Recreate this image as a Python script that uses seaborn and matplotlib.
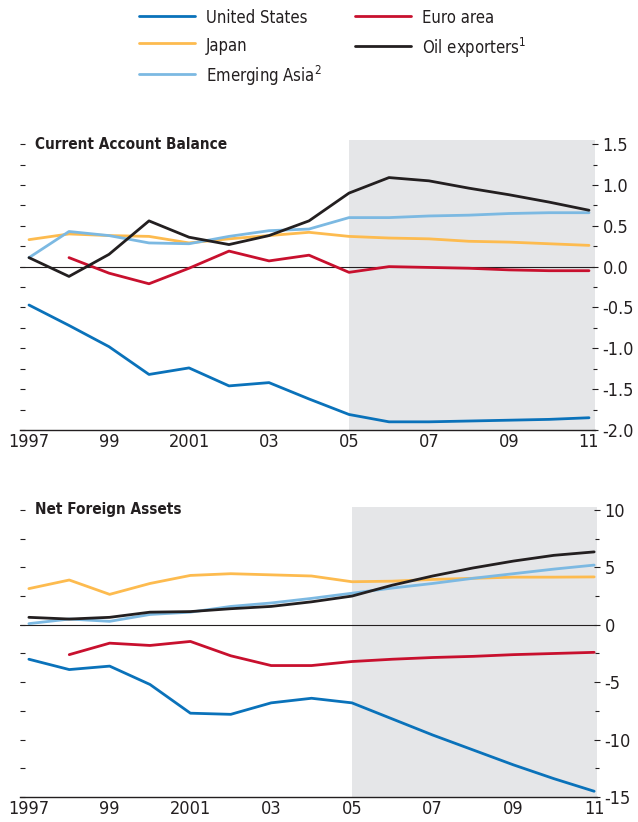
import numpy as np
import pandas as pd
import seaborn as sns
import matplotlib
matplotlib.use('Agg')
from matplotlib import pyplot as plt
from matplotlib.lines import Line2D
from matplotlib.ticker import MultipleLocator, FixedLocator, FormatStrFormatter
import matplotlib.transforms as mtransforms

# years on the x axis
years = list(range(1997, 2012))
year_labels = ['1997', '', '99', '', '2001', '', '03', '', '05', '', '07', '', '09', '', '11']

regions = ['United States', 'Japan', 'Emerging Asia', 'Euro area', 'Oil exporters']
legend_labels = ['United States', 'Japan', 'Emerging Asia$^{\\mathregular{2}}$',
                 'Euro area', 'Oil exporters$^{\\mathregular{1}}$']

# Current account balance
ca_us = [-0.47, -0.72, -0.98, -1.32, -1.24, -1.46, -1.42, -1.62, -1.81, -1.90, -1.90, -1.89, -1.88, -1.87, -1.85]
ca_japan = [0.33, 0.40, 0.38, 0.37, 0.29, 0.34, 0.38, 0.42, 0.37, 0.35, 0.34, 0.31, 0.30, 0.28, 0.26]
ca_asia = [0.11, 0.43, 0.38, 0.29, 0.28, 0.37, 0.44, 0.46, 0.60, 0.60, 0.62, 0.63, 0.65, 0.66, 0.66]
ca_euro = [np.nan, 0.11, -0.08, -0.21, -0.02, 0.19, 0.07, 0.14, -0.07, 0.0, -0.01, -0.02, -0.04, -0.05, -0.05]
ca_oil = [0.11, -0.12, 0.15, 0.56, 0.36, 0.27, 0.38, 0.56, 0.90, 1.09, 1.05, 0.96, 0.88, 0.79, 0.69]

# Net foreign assets
nfa_us = [-3.0, -3.9, -3.6, -5.2, -7.7, -7.8, -6.8, -6.4, -6.8, -8.2, -9.6, -10.9, -12.2, -13.4, -14.5]
nfa_japan = [3.15, 3.9, 2.65, 3.6, 4.3, 4.45, 4.35, 4.25, 3.75, 3.8, 3.95, 4.05, 4.15, 4.15, 4.17]
nfa_asia = [0.1, 0.5, 0.3, 0.9, 1.1, 1.6, 1.9, 2.3, 2.75, 3.2, 3.6, 4.05, 4.45, 4.85, 5.2]
nfa_euro = [np.nan, -2.6, -1.6, -1.8, -1.45, -2.7, -3.55, -3.55, -3.2, -3.0, -2.85, -2.75, -2.6, -2.5, -2.4]
nfa_oil = [0.65, 0.5, 0.65, 1.1, 1.15, 1.4, 1.6, 2.0, 2.5, 3.45, 4.25, 4.95, 5.55, 6.05, 6.35]

palette = {'United States': '#0a72ba', 'Japan': '#fdbb4f', 'Emerging Asia': '#7cb9e2',
           'Euro area': '#c8102e', 'Oil exporters': '#231f20'}
ink = '#231f20'
shade = '#e5e6e8'


def to_long(series):
    rows = []
    for region, vals in zip(regions, series):
        for yr, v in zip(years, vals):
            rows.append({'year': yr, 'value': v, 'region': region})
    return pd.DataFrame(rows).dropna()


ca_df = to_long([ca_us, ca_japan, ca_asia, ca_euro, ca_oil])
nfa_df = to_long([nfa_us, nfa_japan, nfa_asia, nfa_euro, nfa_oil])

sns.set_style('white')
# condensed face, closer to the narrow type of the original
plt.rcParams['font.family'] = ['DejaVu Sans']
plt.rcParams['font.stretch'] = 'condensed'
plt.rcParams['axes.unicode_minus'] = False


def draw_panel(ax, df, xlim, ylim, major, minor, title, title_y, fmt):
    ax.axvspan(2005, xlim[1], color=shade, lw=0, zorder=0)
    ax.axhline(0, color=ink, lw=0.8, zorder=1)
    sns.lineplot(data=df, x='year', y='value', hue='region', hue_order=regions,
                 palette=palette, linewidth=2, legend=False, ax=ax, zorder=2)
    ax.set_xlim(xlim)
    ax.set_ylim(ylim)
    ax.set_xlabel('')
    ax.set_ylabel('')
    for s in ['left', 'top', 'right']:
        ax.spines[s].set_visible(False)
    ax.spines['bottom'].set_color(ink)
    ax.spines['bottom'].set_linewidth(1)
    ax.xaxis.set_major_locator(FixedLocator(years))
    ax.set_xticklabels(year_labels)
    ax.tick_params(axis='x', direction='in', length=5, width=0.8, pad=2,
                   labelsize=13, color=ink, labelcolor=ink)
    ax.yaxis.set_major_locator(MultipleLocator(minor))
    ax.tick_params(axis='y', left=True, direction='in', length=3.6, width=0.8,
                   color=ink, labelleft=False)

    axr = ax.twinx()
    axr.set_ylim(ylim)
    for s in ['left', 'top', 'right', 'bottom']:
        axr.spines[s].set_visible(False)
    axr.yaxis.set_major_locator(MultipleLocator(major))
    axr.yaxis.set_minor_locator(MultipleLocator(minor))
    axr.yaxis.set_major_formatter(FormatStrFormatter(fmt))
    axr.tick_params(axis='y', which='major', direction='inout', length=5, width=0.8,
                    pad=3, labelsize=13, color=ink, labelcolor=ink)
    axr.tick_params(axis='y', which='minor', direction='inout', length=3, width=0.8, color=ink)

    trans = mtransforms.blended_transform_factory(ax.transAxes, ax.transData)
    ax.text(0.026, title_y, title, transform=trans, fontsize=11, fontweight='bold',
            color=ink, ha='left', va='center')


fig = plt.figure(figsize=(6.38, 8.22), dpi=100)
ax1 = fig.add_axes([20 / 638, 1 - 430 / 822, 575 / 638, 290 / 822])
ax2 = fig.add_axes([20 / 638, 1 - 797 / 822, 577 / 638, 290 / 822])

draw_panel(ax1, ca_df, (1996.775, 2011.15), (-2.0, 1.55), 0.5, 0.25,
           'Current Account Balance', 1.5, '%.1f')
draw_panel(ax2, nfa_df, (1996.78, 2011.07), (-15, 10.26), 5, 2.5,
           'Net Foreign Assets', 10, '%d')

handles = [Line2D([], [], color=palette[r], lw=2) for r in regions]
fig.legend(handles, legend_labels, loc='upper left', bbox_to_anchor=(139 / 638, 1 - 8 / 822),
           ncol=2, frameon=False, fontsize=12, handlelength=3.35, handletextpad=0.65,
           handleheight=1.45, columnspacing=2.0, labelspacing=0.48, borderpad=0,
           borderaxespad=0, labelcolor=ink)

fig.savefig('out.png', dpi=100)
